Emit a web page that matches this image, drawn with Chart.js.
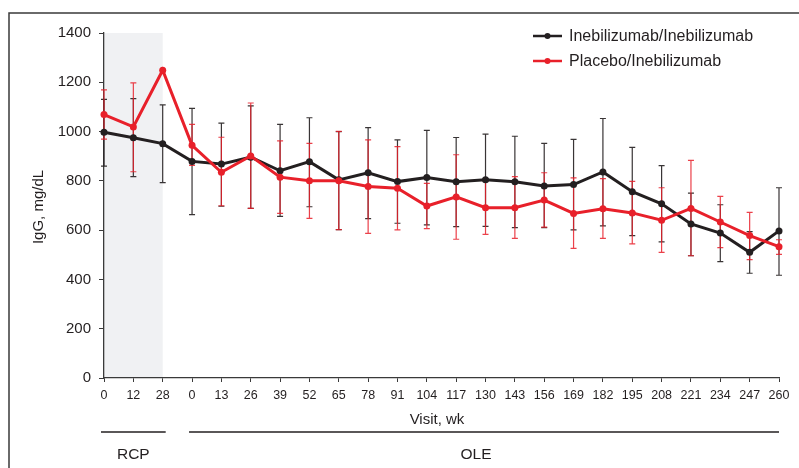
<!DOCTYPE html>
<html>
<head>
<meta charset="utf-8">
<script src="https://cdn.jsdelivr.net/npm/chart.js@4.4.1/dist/chart.umd.min.js"></script>
<style>
  html, body { margin: 0; padding: 0; background: #ffffff; }
  #wrap { width: 799px; height: 468px; position: relative; }
</style>
</head>
<body>
<div id="wrap"><canvas id="c" width="799" height="468"></canvas></div>
<script>
// ---- Data ----
const visitLabels = ['0','12','28','0','13','26','39','52','65','78','91','104','117','130','143','156','169','182','195','208','221','234','247','260'];
const seriesNames = ['Inebilizumab/Inebilizumab', 'Placebo/Inebilizumab'];

const ineMean  = [997, 975, 951, 879, 868, 896, 841, 878, 804, 833, 797, 814, 796, 804, 796, 779, 785, 836, 756, 707, 625, 588, 510, 597];
const ineUpper = [1131, 1134, 1108, 1094, 1034, 1104, 1029, 1056, 1000, 1016, 966, 1005, 976, 990, 981, 952, 968, 1053, 936, 862, 750, 703, 594, 772];
const ineLower = [860, 817, 793, 663, 697, 688, 656, 695, 602, 647, 628, 621, 614, 615, 610, 610, 601, 617, 578, 552, 496, 472, 425, 417];

const plaMean  = [1069, 1019, 1249, 944, 835, 901, 815, 800, 800, 777, 770, 698, 735, 691, 691, 722, 668, 687, 670, 640, 688, 633, 578, 533];
const plaUpper = [1169, 1198, null, 1029, 977, 1116, 962, 952, 1001, 966, 939, 790, 906, 800, 817, 833, 812, 809, 798, 772, 883, 737, 672, 561];
const plaLower = [969, 837, null, 863, 699, 688, 668, 648, 602, 587, 601, 606, 563, 583, 567, 612, 526, 567, 544, 510, 496, 529, 480, 502];

const yTicks = [0, 200, 400, 600, 800, 1000, 1200, 1400];
const xTitle = 'Visit, wk';
const yTitle = 'IgG, mg/dL';
const phaseNames = ['RCP', 'OLE'];
const phaseRanges = [[0, 2], [3, 23]]; // category index ranges

const BLACK = '#231f20';
const RED = '#e8202a';
const FONT = '"Liberation Sans", Arial, sans-serif';

const errorSets = [
  { upper: ineUpper, lower: ineLower, color: 'rgba(35,31,32,0.9)' },
  { upper: plaUpper, lower: plaLower, color: 'rgba(232,32,42,0.85)' }
];

const decorPlugin = {
  id: 'decor',
  beforeDraw(chart) {
    const ctx = chart.ctx, x = chart.scales.x, y = chart.scales.y;
    ctx.save();
    ctx.fillStyle = '#f0f1f3';
    const x0 = x.getPixelForValue(phaseRanges[0][0]);
    const x1 = x.getPixelForValue(phaseRanges[0][1]);
    ctx.fillRect(x0, y.getPixelForValue(1400), x1 - x0, y.getPixelForValue(0) - y.getPixelForValue(1400));
    ctx.restore();
  },
  beforeDatasetsDraw(chart) {
    const ctx = chart.ctx, x = chart.scales.x, y = chart.scales.y;
    ctx.save();
    ctx.lineWidth = 1.2;
    errorSets.forEach(s => {
      ctx.strokeStyle = s.color;
      s.upper.forEach((u, i) => {
        const l = s.lower[i];
        if (u == null || l == null) return;
        const px = x.getPixelForValue(i);
        const pu = y.getPixelForValue(u), pl = y.getPixelForValue(l);
        ctx.beginPath();
        ctx.moveTo(px, pu); ctx.lineTo(px, pl);
        ctx.moveTo(px - 3, pu); ctx.lineTo(px + 3, pu);
        ctx.moveTo(px - 3, pl); ctx.lineTo(px + 3, pl);
        ctx.stroke();
      });
    });
    ctx.restore();
  },
  afterDraw(chart) {
    const ctx = chart.ctx, x = chart.scales.x;
    ctx.save();
    // frame
    ctx.strokeStyle = '#3a3a3a';
    ctx.lineWidth = 1.5;
    ctx.beginPath();
    ctx.moveTo(9, 468); ctx.lineTo(9, 13); ctx.lineTo(799, 13);
    ctx.stroke();

    // legend
    const colors = [BLACK, RED];
    ctx.font = '16px ' + FONT;
    ctx.textBaseline = 'middle';
    ctx.textAlign = 'left';
    seriesNames.forEach((n, i) => {
      const ly = 36 + i * 25;
      ctx.strokeStyle = colors[i];
      ctx.lineWidth = 2.5;
      ctx.beginPath(); ctx.moveTo(533, ly); ctx.lineTo(562, ly); ctx.stroke();
      ctx.fillStyle = colors[i];
      ctx.beginPath(); ctx.arc(547.5, ly, 3, 0, Math.PI * 2); ctx.fill();
      ctx.fillStyle = '#231f20';
      ctx.fillText(n, 569, ly + 0.5);
    });

    // y title
    ctx.fillStyle = '#231f20';
    ctx.font = '15px ' + FONT;
    ctx.save();
    ctx.translate(43, 207);
    ctx.rotate(-Math.PI / 2);
    ctx.textAlign = 'center';
    ctx.textBaseline = 'alphabetic';
    ctx.fillText(yTitle, 0, 0);
    ctx.restore();

    // x title
    ctx.textAlign = 'center';
    ctx.textBaseline = 'alphabetic';
    ctx.fillText(xTitle, 437, 424);

    // phase lines + labels
    ctx.strokeStyle = '#231f20';
    ctx.lineWidth = 1.3;
    ctx.font = '15.5px ' + FONT;
    phaseRanges.forEach((r, i) => {
      const xa = x.getPixelForValue(r[0]) - 3;
      const xb = x.getPixelForValue(r[1]) + (i === 0 ? 3 : 0);
      ctx.beginPath(); ctx.moveTo(xa, 432); ctx.lineTo(xb, 432); ctx.stroke();
      ctx.fillText(phaseNames[i], i === 0 ? (xa + xb) / 2 : 476, 458.5);
    });
    ctx.restore();
  }
};

new Chart(document.getElementById('c'), {
  type: 'line',
  data: {
    labels: visitLabels,
    datasets: [
      { label: seriesNames[0], data: ineMean, borderColor: BLACK, backgroundColor: BLACK,
        borderWidth: 3, pointRadius: 3.5, pointBorderWidth: 0, pointBackgroundColor: BLACK, tension: 0, order: 1 },
      { label: seriesNames[1], data: plaMean, borderColor: RED, backgroundColor: RED,
        borderWidth: 3, pointRadius: 3.5, pointBorderWidth: 0, pointBackgroundColor: RED, tension: 0, order: 0 }
    ]
  },
  options: {
    responsive: false,
    animation: false,
    devicePixelRatio: 1,
    layout: { padding: { left: 10, right: 20, top: 33, bottom: 0 } },
    plugins: { legend: { display: false }, tooltip: { enabled: false } },
    scales: {
      x: {
        type: 'category',
        offset: false,
        grid: { display: true, drawOnChartArea: false, offset: false, tickLength: 4, color: '#3a3a3a', lineWidth: 1 },
        border: { display: true, color: '#3a3a3a', width: 1.3 },
        ticks: { color: '#231f20', font: { family: FONT, size: 12.5 }, padding: 6, maxRotation: 0, autoSkip: false },
        afterFit(s) { s.height = 90; }
      },
      y: {
        min: 0, max: 1400,
        afterBuildTicks(s) { s.ticks = yTicks.map(v => ({ value: v })); },
        grid: { display: true, drawOnChartArea: false, tickLength: 5, color: '#3a3a3a', lineWidth: 1 },
        border: { display: true, color: '#3a3a3a', width: 1.3 },
        ticks: { color: '#231f20', font: { family: FONT, size: 15 }, padding: 8, callback: v => String(v) },
        afterFit(s) { s.width = 94; }
      }
    }
  },
  plugins: [decorPlugin]
});
</script>
</body>
</html>
